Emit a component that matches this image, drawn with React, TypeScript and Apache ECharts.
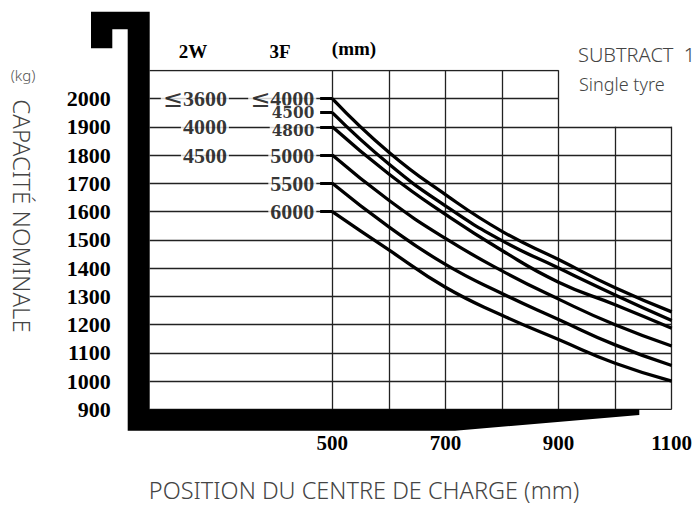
import React, { useEffect, useRef } from "react";
import * as echarts from "echarts";

// ---- data ----
const positions = [500, 600, 700, 800, 900, 1000, 1100];
const cap4000 = [2000, 1810, 1660, 1530, 1430, 1330, 1245];
const cap4500 = [1950, 1768, 1620, 1497, 1400, 1305, 1214];
const cap4800 = [1900, 1733, 1590, 1462, 1350, 1270, 1187];
const cap5000 = [1800, 1640, 1505, 1390, 1290, 1199, 1124];
const cap5500 = [1700, 1546, 1413, 1310, 1218, 1128, 1055];
const cap6000 = [1600, 1464, 1332, 1233, 1147, 1063, 1000];
const curves = [cap4000, cap4500, cap4800, cap5000, cap5500, cap6000];
const labels3F = ["≤4000", "4500", "4800", "5000", "5500", "6000"];
const labelY3F = [2000, 1953, 1890, 1800, 1700, 1600];
const labels2W = ["≤3600", "4000", "4500"];
const values2W = [2000, 1900, 1800];
const xTickLabels = [500, 700, 900, 1100];
const yMin = 900;
const yMax = 2100;
const xMin = 177.2;
const xMax = 1100;
const col2W = 319;
const col3F = 473.5;
const stubStart = 478.5;

const SERIF = "'Liberation Serif', 'Times New Roman', serif";
const SANS = "'Noto Sans', 'Open Sans', sans-serif";

export default function App() {
  const ref = useRef<HTMLDivElement>(null);
  useEffect(() => {
    if (!ref.current) return;
    const chart = echarts.init(ref.current, undefined, { renderer: "svg" });

    const gridLines: any[] = [];
    for (let v = yMin; v <= yMax; v += 100) {
      const end = v >= 2000 ? 900 : 1100;
      gridLines.push({ coords: [[xMin, v], [end, v]] });
    }
    for (let x = 500; x <= 1100; x += 100) {
      const top = x <= 900 ? 2100 : 1900;
      gridLines.push({ coords: [[x, yMin], [x, top]] });
    }

    const stubs = curves.map((c) => ({ coords: [[stubStart, c[0]], [500, c[0]]] }));

    const small = new Set(["4500", "4800"]);
    const labelData: any[] = [];
    labels2W.forEach((t, i) => labelData.push({ value: [col2W, values2W[i]], name: t }));
    labels3F.forEach((t, i) => {
      const item: any = { value: [col3F, labelY3F[i]], name: t };
      if (small.has(t))
        item.label = {
          fontFamily: "'DejaVu Serif Condensed', 'DejaVu Serif', serif",
          fontSize: 17,
          lineHeight: 13,
        };
      labelData.push(item);
    });

    const fmt = (t: string) => (t.startsWith("≤") ? "{s|≤}" + t.slice(1) : t);

    chart.setOption({
      animation: false,
      backgroundColor: "#fff",
      grid: {
        left: 149.7,
        right: 25.3,
        top: 70.3,
        bottom: 102.7,
        outerBoundsMode: "none",
      },
      xAxis: {
        type: "value",
        min: xMin,
        max: xMax,
        axisLine: { show: false },
        axisTick: { show: false },
        splitLine: { show: false },
        axisLabel: {
          customValues: xTickLabels,
          margin: 23,
          fontFamily: SERIF,
          fontWeight: "bold",
          fontSize: 21,
          color: "#000",
          formatter: (v: number) => String(v),
        },
      },
      yAxis: {
        type: "value",
        min: yMin,
        max: yMax,
        interval: 100,
        axisLine: { show: false },
        axisTick: { show: false },
        splitLine: { show: false },
        axisLabel: {
          margin: 39,
          fontFamily: SERIF,
          fontWeight: "bold",
          fontSize: 22,
          color: "#000",
          formatter: (v: number) => (v >= 2100 ? "" : String(v)),
        },
      },
      series: [
        {
          type: "lines",
          coordinateSystem: "cartesian2d",
          data: gridLines,
          lineStyle: { color: "#222", width: 1.3, opacity: 1 },
          silent: true,
          z: 1,
        },
        {
          type: "scatter",
          data: labelData,
          symbolSize: 0,
          silent: true,
          z: 3,
          label: {
            show: true,
            position: "left",
            distance: 1,
            formatter: (p: any) => fmt(p.name),
            fontFamily: SERIF,
            fontWeight: "bold",
            fontSize: 22,
            color: "#000",
            backgroundColor: "#fff",
            padding: [0, 2],
            lineHeight: 15,
            rich: {
              s: {
                fontFamily: "'DejaVu Sans', sans-serif",
                fontSize: 24,
                fontWeight: "normal",
                color: "#000",
                lineHeight: 15,
              },
            },
          },
        },
        {
          type: "lines",
          coordinateSystem: "cartesian2d",
          data: stubs,
          lineStyle: { color: "#000", width: 3.2, opacity: 1 },
          silent: true,
          z: 4,
        },
        ...curves.map((c, i) => ({
          type: "line",
          name: labels3F[i],
          data: positions.map((x, j) => [x, c[j]]),
          smooth: 0.5,
          symbol: "none",
          lineStyle: { color: "#000", width: 3.3 },
          silent: true,
          z: 5,
        })),
      ],
      graphic: [
        {
          type: "polygon",
          z: 100,
          shape: {
            points: [
              [91, 11.7],
              [149.7, 11.7],
              [149.7, 409.3],
              [639.3, 409.3],
              [639.3, 415],
              [455, 430.7],
              [127.7, 430.7],
              [127.7, 29.3],
              [112.3, 29.3],
              [112.3, 48.3],
              [91, 48.3],
            ],
          },
          style: { fill: "#000" },
        },
        {
          type: "text",
          z: 100,
          x: 193,
          y: 51,
          style: { text: "2W", font: `bold 19px ${SERIF}`, fill: "#000", align: "center", verticalAlign: "middle" },
        },
        {
          type: "text",
          z: 100,
          x: 280,
          y: 51,
          style: { text: "3F", font: `bold 19px ${SERIF}`, fill: "#000", align: "center", verticalAlign: "middle" },
        },
        {
          type: "text",
          z: 100,
          x: 354,
          y: 48,
          style: { text: "(mm)", font: `bold 19px ${SERIF}`, fill: "#000", align: "center", verticalAlign: "middle" },
        },
        {
          type: "text",
          z: 100,
          x: 578,
          y: 54,
          style: { text: "SUBTRACT  1", font: `300 20px ${SANS}`, fill: "#444", align: "left", verticalAlign: "middle" },
        },
        {
          type: "text",
          z: 100,
          x: 579,
          y: 84,
          style: { text: "Single tyre", font: `300 18px ${SANS}`, fill: "#444", align: "left", verticalAlign: "middle" },
        },
        {
          type: "text",
          z: 100,
          x: 23,
          y: 75,
          style: { text: "(kg)", font: `300 15px ${SANS}`, fill: "#555", align: "center", verticalAlign: "middle" },
        },
        {
          type: "text",
          z: 100,
          x: 22,
          y: 216,
          rotation: -Math.PI / 2,
          style: { text: "CAPACITÉ NOMINALE", font: `300 24px ${SANS}`, fill: "#444", align: "center", verticalAlign: "middle" },
        },
        {
          type: "text",
          z: 100,
          x: 364,
          y: 490,
          style: {
            text: "POSITION DU CENTRE DE CHARGE (mm)",
            font: `300 23.5px ${SANS}`,
            fill: "#444",
            align: "center",
            verticalAlign: "middle",
          },
        },
      ],
    });
    return () => chart.dispose();
  }, []);
  return (
    <div
      ref={ref}
      style={{ position: "fixed", left: 0, top: 0, width: 697, height: 512, background: "#fff" }}
    />
  );
}
